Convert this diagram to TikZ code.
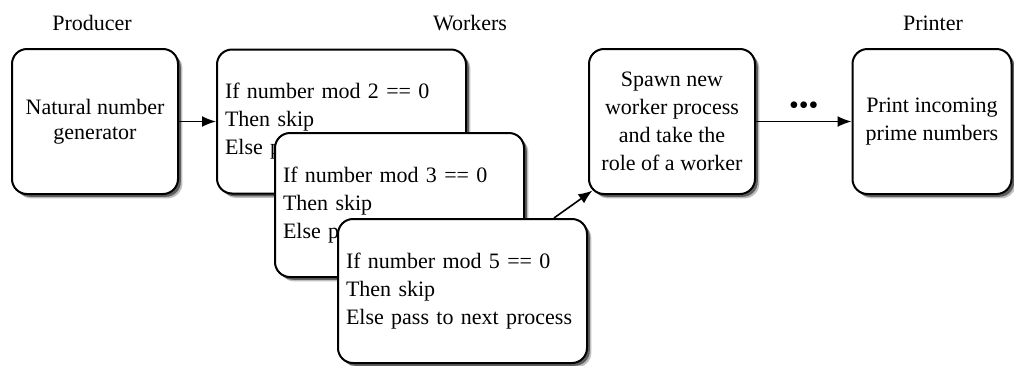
\documentclass[tikz,border=0pt]{standalone}
\usepackage{fontspec}
\setmainfont{Liberation Serif}
\usetikzlibrary{shadows,arrows.meta}
\begin{document}
\begin{tikzpicture}[x=0.5pt,y=-0.5pt,
  box/.style={draw=black, line width=1pt, rounded corners=7.5pt, fill=white,
    drop shadow={shadow xshift=2.2pt, shadow yshift=-2.2pt, fill=black, opacity=0.25},
    drop shadow={shadow xshift=1.4pt, shadow yshift=-1.4pt, fill=black, opacity=0.5},
    inner sep=0pt, font=\fontsize{11}{14}\selectfont},
  smallbox/.style={box, minimum width=83pt, minimum height=72.5pt, align=center},
  workbox/.style={box, minimum width=124.5pt, minimum height=72pt, text width=116.5pt, align=left},
  title/.style={font=\fontsize{11}{14}\selectfont},
  arr/.style={line width=0.8pt, -{Latex[length=7pt,width=5.5pt]}}]
\useasboundingbox (0,0) rectangle (1014,365);

\node[title] (tprod) at (92,23) {Producer};
\node[title] (twork) at (470,23) {Workers};
\node[title] (tprint) at (933,23) {Printer};

\node[smallbox, font=\fontsize{11}{12.5}\selectfont] (prod) at (95,121.5) {Natural number\\generator};
\node[workbox] (w1) at (341.5,121.5) {If number mod 2 == 0\\Then skip\\Else pass to next process};
\node[workbox] (w2) at (399.5,205) {If number mod 3 == 0\\Then skip\\Else pass to next process};
\node[workbox] (w3) at (462.5,291) {If number mod 5 == 0\\Then skip\\Else pass to next process};
\node[smallbox] (spawn) at (672,121.5) {Spawn new\\worker process\\and take the\\role of a worker};
\node[smallbox, minimum width=79.5pt] (print) at (932,121.5) {Print incoming\\prime numbers};

\draw[arr] (prod.east) -- (w1.west);
\draw[arr] ([xshift=-17pt]w3.north east) -- ([shift={(2.2pt,2.2pt)}]spawn.south west);
\draw[arr] (spawn.east) -- node[above=3pt, font=\fontsize{14}{14}\selectfont, inner sep=0pt] (dots) {•••} (print.west);
\end{tikzpicture}
\end{document}
